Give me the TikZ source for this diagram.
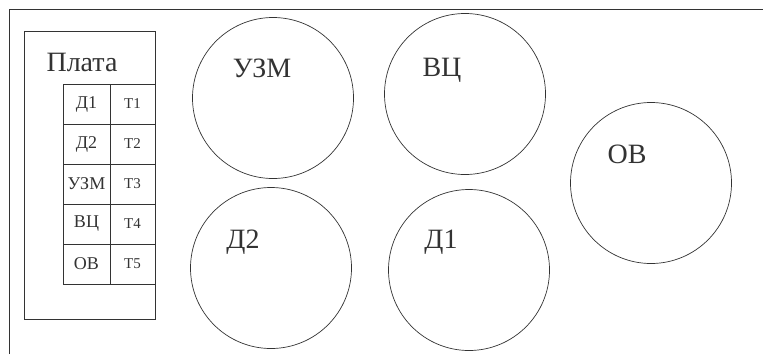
\documentclass[tikz,border=0pt]{standalone}
\usepackage{fontspec}
\setmainfont{LiberationSerif}[Extension=.ttf, UprightFont=*-Regular, BoldFont=*-Bold]
\usetikzlibrary{positioning}

\begin{document}
\begin{tikzpicture}[
  x=1pt, y=-1pt,
  color=black!80, line width=0.7pt,
  circ/.style={circle, draw, minimum size=161pt, inner sep=0pt},
  lbl/.style={font=\fontsize{28}{30}\selectfont, inner sep=0pt},
  cellL/.style={draw, minimum width=47pt, minimum height=40pt, inner sep=0pt,
                outer sep=0pt, font=\fontsize{18}{20}\selectfont},
  cellR/.style={draw, minimum width=45pt, minimum height=40pt, inner sep=0pt,
                outer sep=0pt, font=\fontsize{15}{17}\selectfont}
]
\useasboundingbox (0,0) rectangle (765,354);

% frame
\draw (9,354) -- (9,9) -- (763,9);

% board with its table
\node[draw, minimum width=131pt, minimum height=288pt, inner sep=0pt] (plata) at (89.5,175) {};
\node[lbl] (plata-t) at (82,62) {Плата};
\foreach \a/\b [count=\i] in {Д1/Т1, Д2/Т2, УЗМ/Т3, ВЦ/Т4, ОВ/Т5} {
  \node[cellL] (l\i) at (86.5,64+40*\i) {\a};
  \node[cellR, right=0pt of l\i] (r\i) {\b};
}

% units
\node[circ] (uzm) at (273,98) {};
\node[circ] (vc)  at (465,94) {};
\node[circ] (d2)  at (271,268) {};
\node[circ] (d1)  at (469,270) {};
\node[circ] (ov)  at (651,183) {};
\node[lbl] (uzm-t) at (262,68) {УЗМ};
\node[lbl] (vc-t)  at (442,70) {ВЦ};
\node[lbl] (d2-t)  at (243,242) {Д2};
\node[lbl] (d1-t)  at (441,242) {Д1};
\node[lbl] (ov-t)  at (627,154) {ОВ};

\end{tikzpicture}
\end{document}
